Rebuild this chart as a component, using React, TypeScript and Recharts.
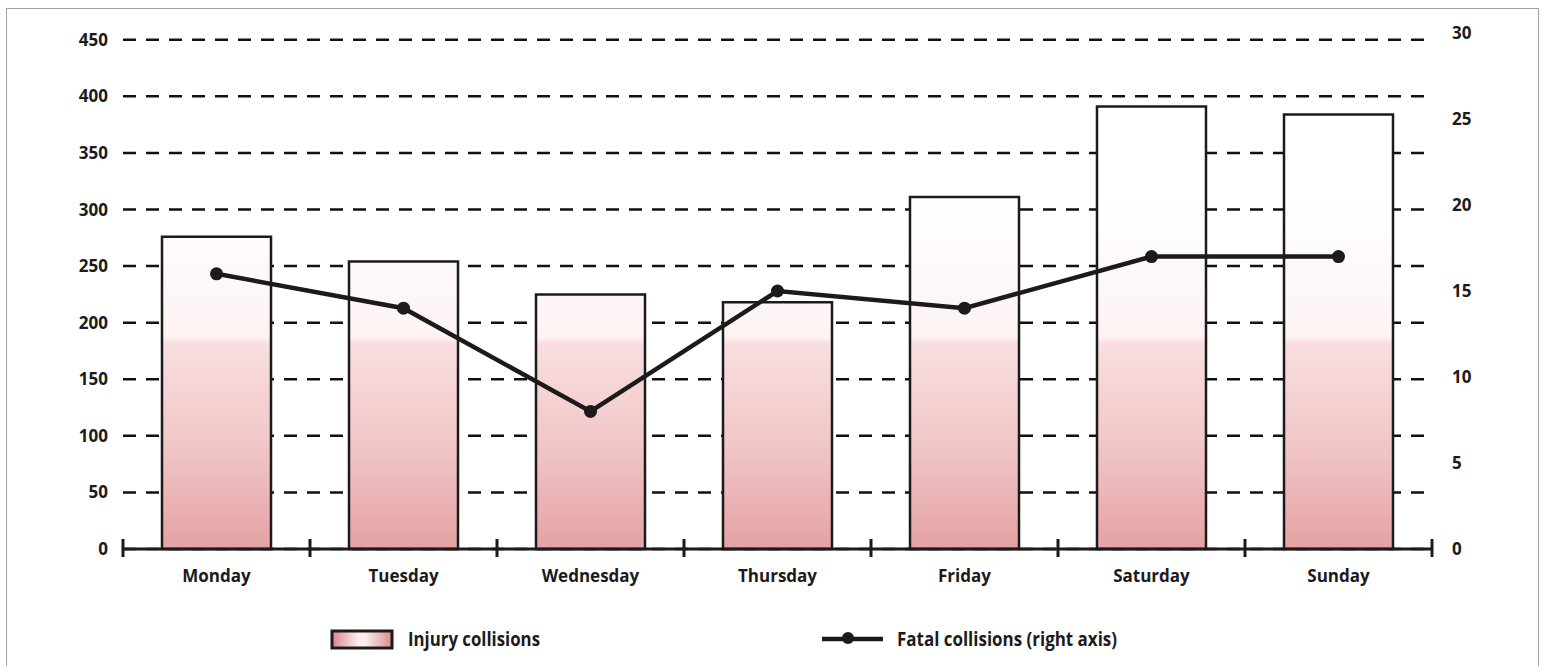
import { ComposedChart, Bar, Line, XAxis, YAxis, CartesianGrid, Legend } from 'recharts'

// Collisions by day of week
const days = ['Monday', 'Tuesday', 'Wednesday', 'Thursday', 'Friday', 'Saturday', 'Sunday']
const injuryCollisions = [276, 254, 225, 218, 311, 391, 384]
const fatalCollisions = [16, 14, 8, 15, 14, 17, 17]

const leftTicks = [0, 50, 100, 150, 200, 250, 300, 350, 400, 450]
const rightTicks = [0, 5, 10, 15, 20, 25, 30]
const LEFT_MAX = 456

const seriesNames = ['Injury collisions', 'Fatal collisions (right axis)']

const data = days.map((day, i) => ({
  day,
  injury: injuryCollisions[i],
  fatal: fatalCollisions[i],
}))

const FONT = '"Open Sans", sans-serif'
const INK = '#1c1a1b'
const LABEL_GAP = 21

// category label plus the small marks on the band edges, crossing the baseline
const DayTick = (props: any) => {
  const { x, y, payload, index, visibleTicksCount } = props
  const half = payload?.offset ?? 0
  const base = y - LABEL_GAP
  const mark = (mx: number) => (
    <line x1={mx} x2={mx} y1={base - 10} y2={base + 8} stroke={INK} strokeWidth={3} />
  )
  return (
    <g>
      {mark(x - half)}
      {index === visibleTicksCount - 1 && mark(x + half)}
      <text x={x} y={y} dy="0.71em" textAnchor="middle" fontFamily={FONT} fontWeight={700} fontSize={17} fill={INK}>
        {payload.value}
      </text>
    </g>
  )
}

// gridlines only at the left-axis ticks
const gridRows = ({ offset }: any) =>
  leftTicks.map((t) => offset.top + offset.height * (1 - t / LEFT_MAX))

const renderLegend = () => (
  <div style={{ width: 1543, height: 30 }}>
    <svg width={1543} height={30}>
      <defs>
        <linearGradient id="legendFill" x1="0" y1="0" x2="1" y2="0">
          <stop offset="0" stopColor="#d8868a" />
          <stop offset="0.45" stopColor="#fbeeee" />
          <stop offset="0.55" stopColor="#fbeeee" />
          <stop offset="1" stopColor="#da8d90" />
        </linearGradient>
      </defs>
      <rect x={332} y={7} width={60} height={17} fill="url(#legendFill)" stroke={INK} strokeWidth={3} />
      <text x={408} y={22} fontFamily={FONT} fontWeight={700} fontSize={19} fill={INK}
        textLength={132} lengthAdjust="spacingAndGlyphs">{seriesNames[0]}</text>
      <line x1={822} x2={883} y1={15} y2={15} stroke={INK} strokeWidth={4.5} />
      <circle cx={848} cy={14} r={6} fill={INK} />
      <text x={897} y={22} fontFamily={FONT} fontWeight={700} fontSize={19} fill={INK}
        textLength={220} lengthAdjust="spacingAndGlyphs">{seriesNames[1]}</text>
    </svg>
  </div>
)

export default function App() {
  const tickStyle = { fontFamily: FONT, fontWeight: 700, fontSize: 17, fill: INK }
  return (
    <div style={{ position: 'absolute', left: 0, top: 0, width: 1543, height: 666, overflow: 'hidden', background: '#fff' }}>
      <div style={{ position: 'absolute', left: 6, top: 8, width: 1531, height: 720, border: '1.5px solid #a3a3a3' }} />
      <ComposedChart
        width={1543}
        height={666}
        data={data}
        margin={{ top: 33, right: 0, bottom: 47, left: 0 }}
        style={{ position: 'absolute', left: 0, top: 0 }}
      >
        <defs>
          <linearGradient id="barFill" gradientUnits="userSpaceOnUse" x1="0" y1="33" x2="0" y2="549">
            <stop offset="0" stopColor="#ffffff" />
            <stop offset="0.32" stopColor="#ffffff" />
            <stop offset="0.59" stopColor="#fdf3f3" />
            <stop offset="0.6" stopColor="#f9dfe0" />
            <stop offset="0.8" stopColor="#f1c6c7" />
            <stop offset="1" stopColor="#e5a2a4" />
          </linearGradient>
        </defs>
        <CartesianGrid
          yAxisId="left"
          vertical={false}
          stroke="#111"
          strokeWidth={2.5}
          strokeDasharray="13 10"
          horizontalCoordinatesGenerator={gridRows}
        />
        <XAxis
          dataKey="day"
          height={40}
          axisLine={{ stroke: INK, strokeWidth: 3 }}
          tickLine={false}
          tickSize={0}
          tickMargin={LABEL_GAP}
          tick={<DayTick />}
          interval={0}
        />
        <YAxis
          yAxisId="left"
          width={123}
          domain={[0, LEFT_MAX]}
          ticks={leftTicks}
          axisLine={false}
          tickLine={false}
          tickSize={0}
          tickMargin={15}
          tick={tickStyle}
        />
        <YAxis
          yAxisId="right"
          orientation="right"
          width={111}
          domain={[0, 30]}
          ticks={rightTicks}
          axisLine={false}
          tickLine={false}
          tickSize={0}
          tickMargin={20}
          tick={tickStyle}
        />
        <Bar
          yAxisId="left"
          dataKey="injury"
          name={seriesNames[0]}
          barSize={109}
          fill="url(#barFill)"
          stroke={INK}
          strokeWidth={2.5}
          isAnimationActive={false}
        />
        <Line
          yAxisId="right"
          dataKey="fatal"
          name={seriesNames[1]}
          type="linear"
          stroke={INK}
          strokeWidth={4.5}
          dot={{ r: 6.5, fill: INK, stroke: INK, strokeWidth: 0 }}
          isAnimationActive={false}
        />
        <Legend
          verticalAlign="bottom"
          content={renderLegend}
          wrapperStyle={{ top: 624, left: 0, width: 1543, height: 30 }}
        />
      </ComposedChart>
    </div>
  )
}
